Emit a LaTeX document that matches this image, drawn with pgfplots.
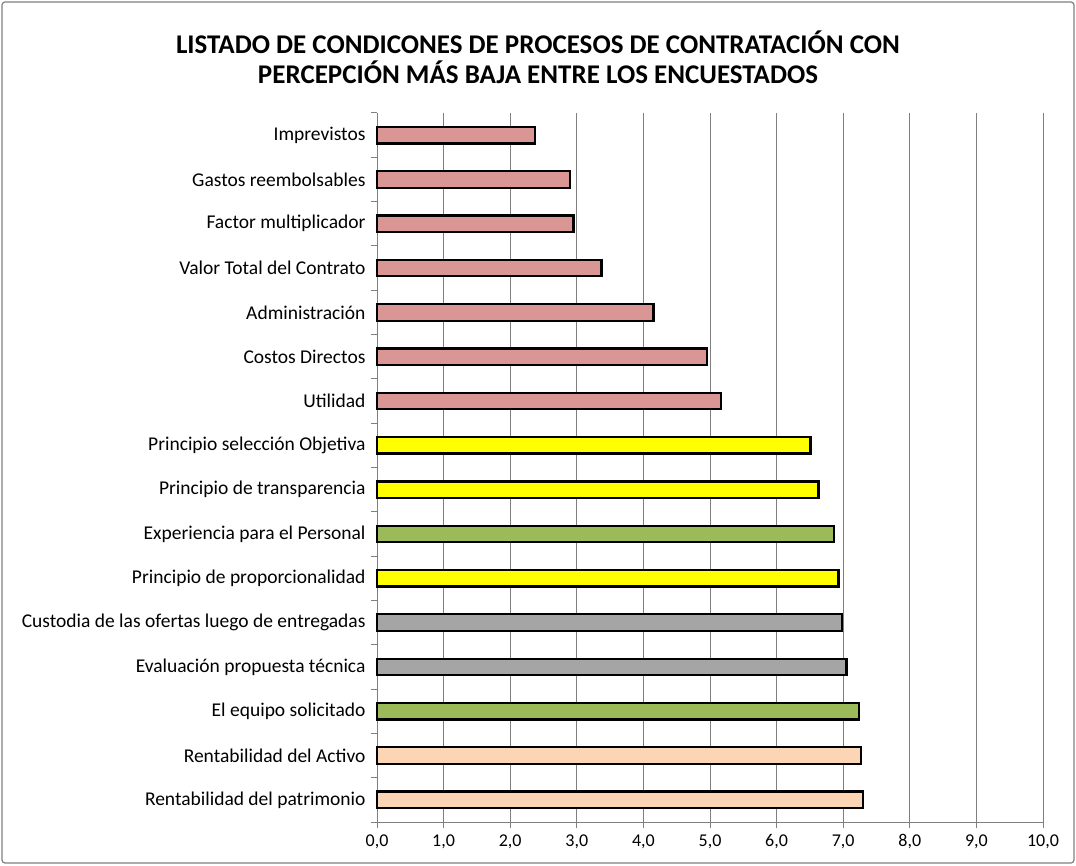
\documentclass[border=0pt]{standalone}
\usepackage{pgfplots}
\pgfplotsset{compat=1.18}
\usepackage{fontspec}
\setmainfont{Carlito}
\definecolor{cpink}{HTML}{D99694}
\definecolor{cyel}{HTML}{FFFF00}
\definecolor{cgreen}{HTML}{9BBB59}
\definecolor{cgrey}{HTML}{A5A5A5}
\definecolor{cpeach}{HTML}{FCD5B5}
\definecolor{axgray}{HTML}{7F7F7F}
\begin{document}
\begin{tikzpicture}
\path[use as bounding box] (0pt,0pt) rectangle (1076pt,865pt);
\draw[axgray, line width=1.2pt, rounded corners=3pt] (2pt,2pt) rectangle (1074pt,863pt);
\node[align=center, font=\fontsize{27}{30}\selectfont\bfseries] at (538pt,808pt)
 {LISTADO DE CONDICONES DE PROCESOS DE CONTRATACIÓN CON\\PERCEPCIÓN MÁS BAJA ENTRE LOS ENCUESTADOS};
\begin{axis}[
  at={(377pt,43pt)}, anchor=south west,
  scale only axis, width=666pt, height=709pt,
  xmin=0, xmax=10, ymin=-0.5, ymax=15.5,
  axis x line*=bottom, axis y line*=left,
  axis line style={axgray, line width=1pt, -},
  xtick={0,...,10},
  xmajorgrids, major grid style={axgray, line width=1pt},
  ytick={0,...,15},
  minor ytick={-0.5,0.5,...,15.5},
  tick align=outside,
  major tick length=6pt,
  minor tick length=6pt,
  ytick style={draw=none},
  minor y tick style={draw=axgray, line width=1pt},
  xtick style={draw=axgray, line width=1pt},
  /pgf/number format/assume math mode=true,
  xticklabel style={font=\fontsize{18}{20}\selectfont, yshift=-3pt, /pgf/number format/.cd, fixed, fixed zerofill, precision=1, use comma},
  yticklabel style={font=\fontsize{19.5}{22}\selectfont, xshift=-2pt},
  yticklabels={Rentabilidad del patrimonio, Rentabilidad del Activo, El equipo solicitado, Evaluación propuesta técnica, Custodia de las ofertas luego de entregadas, Principio de proporcionalidad, Experiencia para el Personal, Principio de transparencia, Principio selección Objetiva, Utilidad, Costos Directos, Administración, Valor Total del Contrato, Factor multiplicador, Gastos reembolsables, Imprevistos},
  xbar, bar width=16.5pt, bar shift=0pt,
  every axis plot/.append style={draw=black, line width=2.3pt},
  clip=false,
]
\addplot[fill=cpeach] coordinates {(7.30,0) (7.27,1)};
\addplot[fill=cgreen] coordinates {(7.24,2) (6.86,6)};
\addplot[fill=cgrey] coordinates {(7.05,3) (6.98,4)};
\addplot[fill=cyel] coordinates {(6.93,5) (6.63,7) (6.51,8)};
\addplot[fill=cpink] coordinates {(5.17,9) (4.96,10) (4.15,11) (3.37,12) (2.95,13) (2.90,14) (2.37,15)};
\end{axis}
\end{tikzpicture}
\end{document}
